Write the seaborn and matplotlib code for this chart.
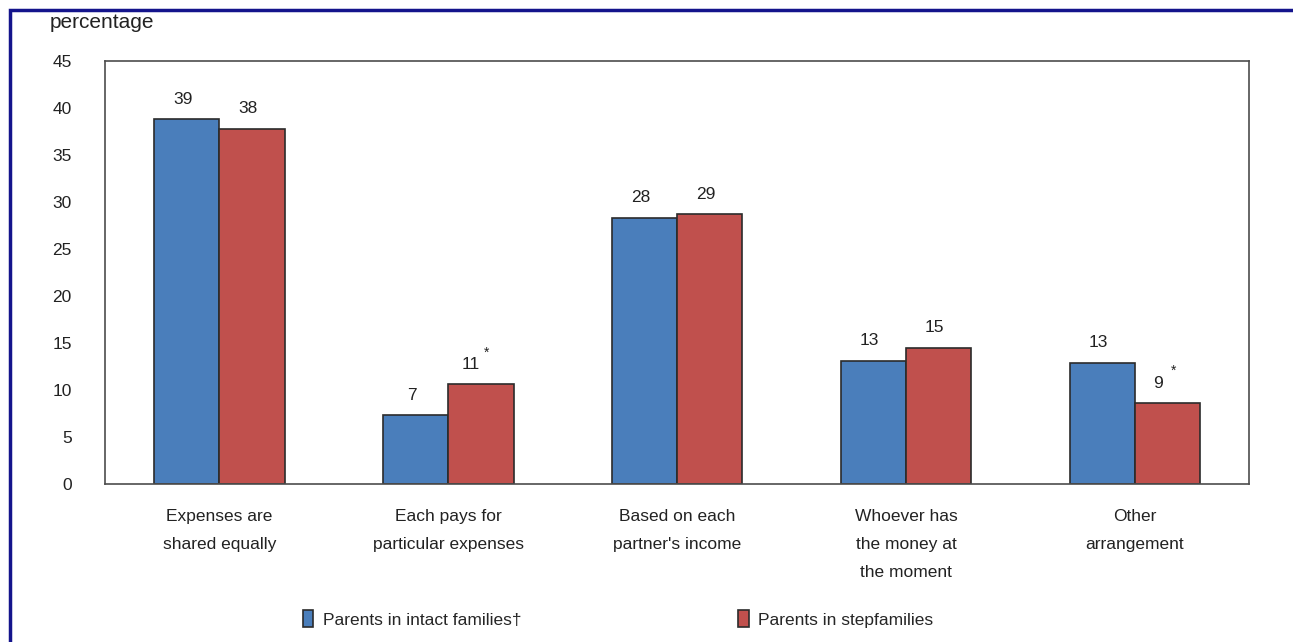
import numpy as np
import pandas as pd
import matplotlib.pyplot as plt
import seaborn as sns
from matplotlib.patches import Rectangle

# data
categories = ["Expenses are\nshared equally", "Each pays for\nparticular expenses",
              "Based on each\npartner's income", "Whoever has\nthe money at\nthe moment",
              "Other\narrangement"]
groups = ["Parents in intact families\u2020", "Parents in stepfamilies"]
intact = [38.8, 7.3, 28.3, 13.1, 12.9]
step = [37.8, 10.6, 28.7, 14.5, 8.6]
intact_labels = ["39", "7", "28", "13", "13"]
step_labels = ["38", "11", "29", "15", "9"]
step_star = [False, True, False, False, True]
yticks = [0, 5, 10, 15, 20, 25, 30, 35, 40, 45]

colors = ["#4a7ebb", "#c0504d"]

df = pd.DataFrame({
    "category": categories * 2,
    "group": [groups[0]] * len(categories) + [groups[1]] * len(categories),
    "value": intact + step,
})

sns.set_style("white")
plt.rcParams["font.family"] = ["Liberation Sans", "DejaVu Sans"]
fs = 12.5

fig = plt.figure(figsize=(12.93, 6.42), dpi=100)
ax = fig.add_axes([0.0812, 0.246, 0.885, 0.659])

sns.barplot(data=df, x="category", y="value", hue="group", palette=colors,
            width=0.57, edgecolor="#2b2b2b", linewidth=1.2, saturation=1,
            ax=ax)

ax.set_xlim(-0.5, 4.5)
ax.set_ylim(0, 45)
ax.set_yticks(yticks)
ax.set_xlabel("")
ax.set_ylabel("")
for s in ax.spines.values():
    s.set_color("#4d4d4d")
    s.set_linewidth(1.2)
ax.tick_params(axis="y", direction="in", length=6, width=1, color="#4d4d4d",
               pad=24, labelsize=fs, labelcolor="#222222")
ax.tick_params(axis="x", length=0, pad=18, labelsize=fs, labelcolor="#222222")
for lab in ax.get_xticklabels():
    lab.set_linespacing(2.1)

# value labels
for cont, labels, stars in [(ax.containers[0], intact_labels, [False] * 5),
                            (ax.containers[1], step_labels, step_star)]:
    for bar, lab, star in zip(cont, labels, stars):
        cx = bar.get_x() + bar.get_width() / 2
        h = bar.get_height()
        ax.annotate(lab, (cx, h), xytext=(-7 if star else -3, 9),
                    textcoords="offset points", ha="center", va="bottom",
                    fontsize=fs, color="#222222")
        if star:
            ax.annotate("*", (cx, h), xytext=(4, 18), textcoords="offset points",
                        ha="center", va="bottom", fontsize=10, color="#222222")

handles, labels = ax.get_legend_handles_labels()
ax.legend_.remove()
fig.legend(handles, labels, loc="center", bbox_to_anchor=(0.478, 0.036), ncol=2,
           frameon=False, fontsize=fs, handlelength=0.6, handleheight=1.1,
           handletextpad=0.55, columnspacing=12.5)

fig.text(50 / 1293, 1 - 23 / 642, "percentage", fontsize=15, va="center",
         ha="left", color="#222222")

# blue frame around the figure
fig.patches.append(Rectangle((9.5 / 1293, -0.2), 1.5, 1.2 - 10 / 642,
                             transform=fig.transFigure, fill=False,
                             edgecolor="#14148c", linewidth=2.5))

fig.savefig("out.png", dpi=100)
